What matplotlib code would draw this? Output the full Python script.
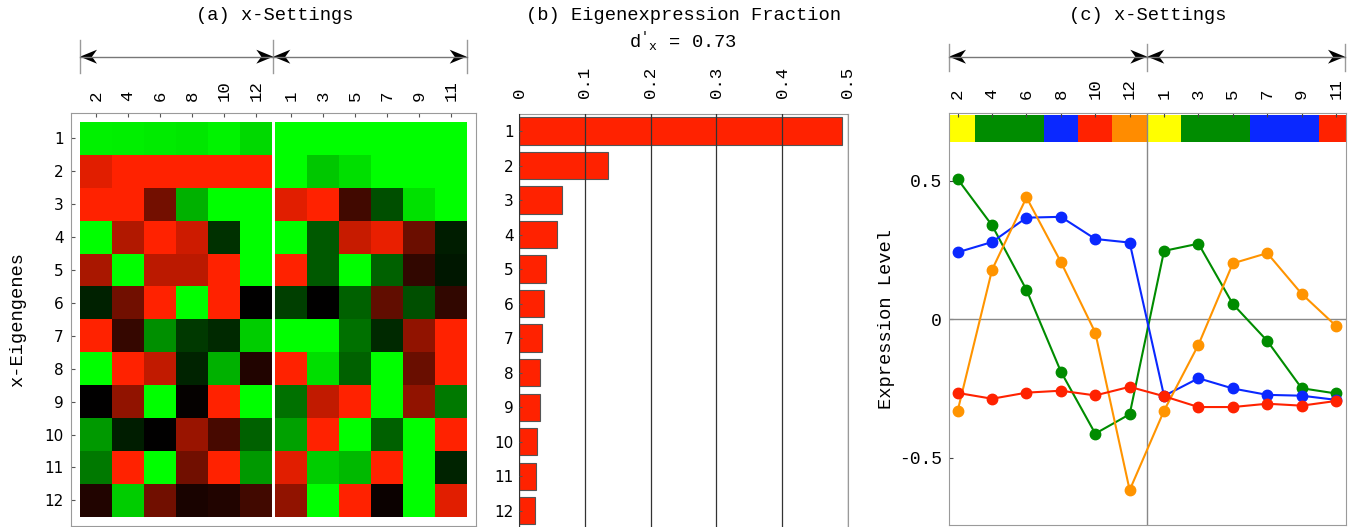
import numpy as np
import matplotlib
matplotlib.use("Agg")
import matplotlib.pyplot as plt
from matplotlib.colors import LinearSegmentedColormap
from matplotlib.patches import Polygon

# ---------------- data ----------------
left_settings = ['2', '4', '6', '8', '10', '12']
right_settings = ['1', '3', '5', '7', '9', '11']
eigengenes = [str(i) for i in range(1, 13)]

# heatmap values (positive = red, negative = green), rows = eigengenes 1..12
heat_left = [
    [-0.94, -0.93, -0.92, -0.90, -0.95, -0.85],
    [0.88, 1.00, 1.00, 1.00, 1.00, 1.00],
    [1.00, 1.00, 0.45, -0.69, -1.00, -1.00],
    [-1.00, 0.69, 1.00, 0.80, -0.19, -1.00],
    [0.66, -1.00, 0.73, 0.73, 1.00, -1.00],
    [-0.13, 0.44, 1.00, -1.00, 1.00, 0.00],
    [1.00, 0.21, -0.56, -0.22, -0.16, -0.80],
    [-1.00, 1.00, 0.75, -0.14, -0.69, 0.13],
    [0.00, 0.57, -1.00, 0.02, 1.00, -1.00],
    [-0.60, -0.11, 0.00, 0.60, 0.28, -0.38],
    [-0.47, 1.00, -1.00, 0.44, 1.00, -0.60],
    [0.13, -0.80, 0.44, 0.10, 0.13, 0.25],
]
heat_right = [
    [-1.00, -1.00, -1.00, -1.00, -1.00, -1.00],
    [-1.00, -0.78, -0.87, -1.00, -1.00, -1.00],
    [0.88, 1.00, 0.25, -0.31, -0.88, -1.00],
    [-1.00, -0.35, 0.78, 0.91, 0.42, -0.11],
    [1.00, -0.35, -1.00, -0.38, 0.19, -0.09],
    [-0.25, 0.00, -0.38, 0.38, -0.31, 0.19],
    [-1.00, -1.00, -0.44, -0.16, 0.57, 1.00],
    [1.00, -0.87, -0.38, -1.00, 0.41, 1.00],
    [-0.44, 0.75, 1.00, -1.00, 0.57, -0.47],
    [-0.63, 1.00, -1.00, -0.38, -1.00, 1.00],
    [0.88, -0.80, -0.72, 1.00, -1.00, -0.14],
    [0.57, -1.00, 1.00, 0.04, -1.00, 0.88],
]

fractions = [0.491, 0.135, 0.065, 0.058, 0.041, 0.0375, 0.0345, 0.032, 0.031, 0.0274, 0.026, 0.024]
frac_ticks = [0, 0.1, 0.2, 0.3, 0.4, 0.5]
frac_tick_labels = ['0', '0.1', '0.2', '0.3', '0.4', '0.5']

settings_c = left_settings + right_settings
green_series = [0.506, 0.339, 0.106, -0.189, -0.413, -0.343, 0.247, 0.273, 0.055, -0.078, -0.249, -0.268]
blue_series = [0.242, 0.279, 0.367, 0.370, 0.290, 0.277, -0.277, -0.213, -0.250, -0.273, -0.276, -0.291]
orange_series = [-0.330, 0.179, 0.440, 0.207, -0.048, -0.617, -0.330, -0.092, 0.202, 0.239, 0.092, -0.024]
red_series = [-0.266, -0.287, -0.265, -0.258, -0.275, -0.244, -0.278, -0.317, -0.317, -0.305, -0.312, -0.295]
phase_colors = ['#FFFF00', '#008C00', '#008C00', '#0A28FF', '#FF2200', '#FF8C00',
                '#FFFF00', '#008C00', '#008C00', '#0A28FF', '#0A28FF', '#FF2200']
c_yticks = [-0.5, 0, 0.5]
c_yticklabels = ['-0.5', '0', '0.5']

# ---------------- style ----------------
MONO = 'Liberation Mono'
SANS = 'DejaVu Sans'
plt.rcParams['mathtext.fontset'] = 'custom'
plt.rcParams['mathtext.rm'] = MONO
plt.rcParams['mathtext.it'] = MONO
FRAME = '#9a9a9a'
W, H = 1367, 527

fig = plt.figure(figsize=(W / 100, H / 100), dpi=100)


def fig_rect(l, r, t, b):
    return [l / W, (H - b) / H, (r - l) / W, (b - t) / H]


cmap = LinearSegmentedColormap.from_list('gbr', ['#00FF00', '#000000', '#FF2200'])

# ---------------- panel (a) ----------------
axa = fig.add_axes(fig_rect(70.7, 476, 113.3, 526))
xl = np.arange(7)
xr = np.arange(7) + 6.094
ye = np.arange(13)
axa.pcolormesh(xl, ye, np.array(heat_left), cmap=cmap, vmin=-1, vmax=1)
axa.pcolormesh(xr, ye, np.array(heat_right), cmap=cmap, vmin=-1, vmax=1)
axa.set_xlim(-0.29, 12.375)
axa.set_ylim(12.28, -0.264)
xt = list(xl[:-1] + 0.5) + list(xr[:-1] + 0.5)
axa.set_xticks(xt)
axa.set_xticklabels(left_settings + right_settings, rotation=90, family=MONO, fontsize=12.5)
axa.xaxis.tick_top()
axa.set_yticks(ye[:-1] + 0.5)
axa.set_yticklabels(eigengenes, family=SANS, fontsize=11)
axa.tick_params(axis='x', direction='in', length=3, pad=9, color='#555555')
axa.tick_params(axis='y', direction='in', length=3, pad=5, color='#555555')
for s in axa.spines.values():
    s.set_color(FRAME)
axa.set_ylabel('x-Eigengenes', family=MONO, fontsize=13.5, labelpad=13)

# ---------------- panel (b) ----------------
axb = fig.add_axes(fig_rect(519.3, 847.7, 113.75, 528))
pos = np.arange(1, 13)
axb.barh(pos, fractions, height=0.79, color='#FF2200', edgecolor='#555555', linewidth=0.8)
axb.set_xlim(0, 0.5)
axb.set_ylim(12.5, 0.5)
axb.set_xticks(frac_ticks)
axb.set_xticklabels(frac_tick_labels, rotation=90, family=MONO, fontsize=12.5)
axb.xaxis.tick_top()
axb.set_yticks(pos)
axb.set_yticklabels(eigengenes, family=SANS, fontsize=11)
axb.tick_params(axis='x', length=0, pad=11)
axb.tick_params(axis='y', direction='in', length=2, pad=4, color='#555555')
axb.set_axisbelow(False)
axb.grid(axis='x', color='#333333', linewidth=0.9)
for s in axb.spines.values():
    s.set_color(FRAME)

# ---------------- panel (c) ----------------
axc = fig.add_axes(fig_rect(949, 1346, 113, 525))
idx = np.arange(len(settings_c))
axc.bar(idx, 0.097, bottom=0.640, width=1.0, color=phase_colors, linewidth=0)
axc.axvline(5.5, color='#888888', linewidth=1, zorder=2)
axc.axhline(0, color='#888888', linewidth=1, zorder=2)
for series, col in [(green_series, '#008C00'), (blue_series, '#0A28FF'),
                    (orange_series, '#FF9400'), (red_series, '#FF2200')]:
    axc.plot(idx, series, color=col, linewidth=1.5, marker='o', markersize=7.5, zorder=3)
axc.set_xlim(-0.253, 11.29)
axc.set_ylim(-0.743, 0.745)
axc.set_xticks(idx)
axc.set_xticklabels(settings_c, rotation=90, family=MONO, fontsize=12.5)
axc.xaxis.tick_top()
axc.set_yticks(c_yticks)
axc.set_yticklabels(c_yticklabels, family=MONO, fontsize=13)
axc.tick_params(axis='x', direction='in', length=3, pad=10, color='#444444')
axc.tick_params(axis='y', direction='in', length=3, pad=5, color='#444444')
for s in axc.spines.values():
    s.set_color(FRAME)
axc.set_ylabel('Expression Level', family=MONO, fontsize=13.5, labelpad=3)

# ---------------- titles ----------------
fig.text(275 / W, 1 - 15 / H, '(a) x-Settings', family=MONO, fontsize=13.5, ha='center', va='center')
fig.text(684 / W, 1 - 15 / H, '(b) Eigenexpression Fraction', family=MONO, fontsize=13.5, ha='center', va='center')
fig.text(683 / W, 1 - 41 / H, r"$\mathrm{d}'_{\mathrm{x}}$ = 0.73", family=MONO, fontsize=13.5, ha='center', va='center')
fig.text(1148 / W, 1 - 15 / H, '(c) x-Settings', family=MONO, fontsize=13.5, ha='center', va='center')

# ---------------- decorative span arrows (pixel overlay) ----------------
ov = fig.add_axes([0, 0, 1, 1], zorder=10)
ov.set_xlim(0, W)
ov.set_ylim(H, 0)
ov.axis('off')
ov.patch.set_alpha(0)


def head(x, y, d):
    L, Wd, N = 17, 7, 12
    pts = [(x, y), (x - d * L, y - Wd), (x - d * N, y), (x - d * L, y + Wd)]
    ov.add_patch(Polygon(pts, closed=True, color='black', lw=0))


def span(x0, x1, y):
    ov.plot([x0, x1], [y, y], color='#777777', lw=1)
    head(x0, y, -1)
    head(x1, y, 1)


for xs, (yt, yb) in [((80, 273.3, 466.7), (40, 73)), ((949, 1147.3, 1345), (44, 71))]:
    for x in xs:
        ov.plot([x, x], [yt, yb], color=FRAME, lw=1)
    span(xs[0], xs[1], 56.7)
    span(xs[1], xs[2], 56.7)

fig.savefig('out.png', dpi=100)
